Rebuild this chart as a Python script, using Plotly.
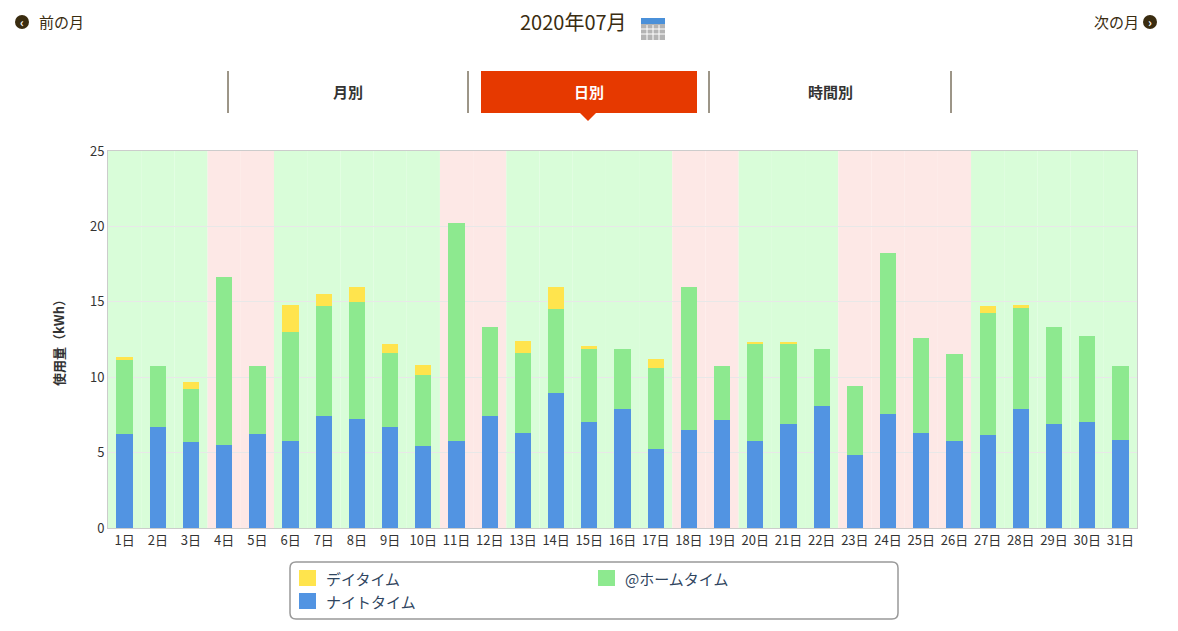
"""
Daily electricity usage for July 2020, stacked by time band
"""

import plotly.graph_objects as go

days = list(range(1, 32))
day_labels = [f"{d}日" for d in days]

# weekends and holidays (pink background)
holidays = [4, 5, 11, 12, 18, 19, 23, 24, 25, 26]

night_kwh = [6.26, 6.68, 5.69, 5.53, 6.26, 5.75, 7.43, 7.26, 6.68, 5.44,
             5.75, 7.43, 6.33, 8.92, 7.01, 7.92, 5.27, 6.53, 7.17, 5.75,
             6.92, 8.08, 4.85, 7.59, 6.33, 5.75, 6.17, 7.92, 6.92, 7.01, 5.86]
home_kwh = [4.91, 4.05, 3.56, 11.11, 4.47, 7.24, 7.30, 7.72, 4.91, 4.71,
            14.45, 5.87, 5.26, 5.57, 4.89, 3.92, 5.31, 9.44, 3.56, 6.51,
            5.34, 3.82, 4.55, 10.62, 6.24, 5.82, 8.08, 6.64, 6.38, 5.71, 4.87]
day_kwh = [0.16, 0, 0.42, 0, 0, 1.83, 0.82, 0.99, 0.58, 0.69,
           0, 0, 0.82, 1.48, 0.20, 0, 0.66, 0, 0, 0.09,
           0.09, 0, 0, 0, 0, 0, 0.48, 0.26, 0, 0, 0]

series_names = ["デイタイム", "@ホームタイム", "ナイトタイム"]
series_colors = ["#FFE44D", "#8DE98F", "#5294E2"]

FONT = "Noto Sans CJK JP"
OFF = 8  # page body margin
W, H = 1162, 615
L, R, T, B = 108, 1137, 151, 528  # plot area in page pixels


def px(x):
    return (x - L) / (R - L)


def py(y):
    return (B - y) / (B - T)


fig = go.Figure()
for vals, name, color in [(night_kwh, series_names[2], series_colors[2]),
                          (home_kwh, series_names[1], series_colors[1]),
                          (day_kwh, series_names[0], series_colors[0])]:
    fig.add_trace(go.Bar(x=days, y=vals, name=name, width=0.49,
                         marker=dict(color=color, line=dict(width=0)),
                         showlegend=False))

shapes = []
# background bands per day
for d in days:
    shapes.append(dict(type="rect", xref="x", yref="paper", x0=d - 0.5, x1=d + 0.5,
                       y0=0, y1=1, layer="below", line=dict(width=0),
                       fillcolor="#FDE8E6" if d in holidays else "#D9FDD9"))

# tab bar
for x in [228, 468, 709, 951]:
    shapes.append(dict(type="line", xref="paper", yref="paper", x0=px(x), x1=px(x),
                       y0=py(71), y1=py(113), line=dict(color="#3a2c10", width=1)))
shapes.append(dict(type="rect", xref="paper", yref="paper", x0=px(481), x1=px(697),
                   y0=py(71), y1=py(113), fillcolor="#E63900", line=dict(width=0)))
shapes.append(dict(type="path", xref="paper", yref="paper",
                   path=f"M {px(580)} {py(113)} L {px(596)} {py(113)} L {px(588)} {py(121)} Z",
                   fillcolor="#E63900", line=dict(width=0)))

# nav circles
for cx in [22, 1150]:
    shapes.append(dict(type="circle", xref="paper", yref="paper",
                       x0=px(cx - 7), x1=px(cx + 7), y0=py(29), y1=py(15),
                       fillcolor="#3a2c10", line=dict(width=0)))

# calendar icon
shapes.append(dict(type="rect", xref="paper", yref="paper", x0=px(641), x1=px(665),
                   y0=py(40), y1=py(24), fillcolor="#b4b4b4", line=dict(width=0)))
shapes.append(dict(type="rect", xref="paper", yref="paper", x0=px(641), x1=px(665),
                   y0=py(24), y1=py(18), fillcolor="#4a90d9", line=dict(width=0)))
for gx in [647, 653, 659]:
    shapes.append(dict(type="line", xref="paper", yref="paper", x0=px(gx), x1=px(gx),
                       y0=py(40), y1=py(25), line=dict(color="white", width=1)))
for gy in [29, 34]:
    shapes.append(dict(type="line", xref="paper", yref="paper", x0=px(641), x1=px(665),
                       y0=py(gy), y1=py(gy), line=dict(color="white", width=1)))

# legend box with rounded corners
lx0, lx1, ly0, ly1, rad = 290, 898, 562, 619, 6
legend_path = (f"M {px(lx0 + rad)} {py(ly0)} L {px(lx1 - rad)} {py(ly0)} "
               f"Q {px(lx1)} {py(ly0)} {px(lx1)} {py(ly0 + rad)} "
               f"L {px(lx1)} {py(ly1 - rad)} Q {px(lx1)} {py(ly1)} {px(lx1 - rad)} {py(ly1)} "
               f"L {px(lx0 + rad)} {py(ly1)} Q {px(lx0)} {py(ly1)} {px(lx0)} {py(ly1 - rad)} "
               f"L {px(lx0)} {py(ly0 + rad)} Q {px(lx0)} {py(ly0)} {px(lx0 + rad)} {py(ly0)} Z")
shapes.append(dict(type="path", xref="paper", yref="paper", path=legend_path,
                   fillcolor="white", line=dict(color="#999999", width=1.5)))

legend_pos = [(299, 578), (598, 578), (299, 601)]
annotations = []
for (lx, ly), name, color in zip(legend_pos, series_names, series_colors):
    shapes.append(dict(type="rect", xref="paper", yref="paper",
                       x0=px(lx), x1=px(lx + 17), y0=py(ly + 8), y1=py(ly - 8),
                       fillcolor=color, line=dict(width=0)))
    annotations.append(dict(text=name, xref="paper", yref="paper", x=px(lx + 25), y=py(ly),
                            xanchor="left", yanchor="middle", showarrow=False,
                            font=dict(size=15, color="#2f4560", family=FONT)))

header_texts = [
    ("前の月", 37, 22, "left", 15, "#3a2c10", False),
    ("2020年07月", 573, 21, "center", 20, "#3a2c10", False),
    ("次の月", 1141, 22, "right", 15, "#3a2c10", False),
    ("月別", 348, 92, "center", 15, "#333333", True),
    ("日別", 589, 92, "center", 15, "#ffffff", True),
    ("時間別", 830, 92, "center", 15, "#333333", True),
]
for text, x, y, anchor, size, color, bold in header_texts:
    annotations.append(dict(text=f"<b>{text}</b>" if bold else text, xref="paper", yref="paper",
                            x=px(x), y=py(y), xanchor=anchor, yanchor="middle",
                            showarrow=False, font=dict(size=size, color=color, family=FONT)))
for text, cx in [("‹", 22), ("›", 1150)]:
    annotations.append(dict(text=f"<b>{text}</b>", xref="paper", yref="paper", x=px(cx), y=py(22),
                            xanchor="center", yanchor="middle", showarrow=False,
                            font=dict(size=12, color="white", family=FONT)))

fig.update_layout(
    width=W, height=H,
    margin=dict(l=L - OFF, r=OFF + W - R, t=T - OFF, b=OFF + H - B),
    barmode="stack",
    plot_bgcolor="white", paper_bgcolor="white",
    font=dict(family=FONT, size=13, color="#333333"),
    shapes=shapes, annotations=annotations,
    showlegend=False,
)
fig.update_xaxes(range=[0.5, 31.5], tickvals=days, ticktext=day_labels,
                 showgrid=False, showline=True, mirror=True, linecolor="#cccccc",
                 ticks="", tickfont=dict(size=13, color="#333333"))
fig.update_yaxes(range=[0, 25], dtick=5, gridcolor="#e8e8e8", zeroline=False,
                 showline=True, mirror=True, linecolor="#cccccc",
                 title=dict(text="<b>使用量（kWh）</b>", font=dict(size=13, color="#333333"), standoff=22),
                 tickfont=dict(size=13, color="#333333"))

fig.write_html("out.html")
